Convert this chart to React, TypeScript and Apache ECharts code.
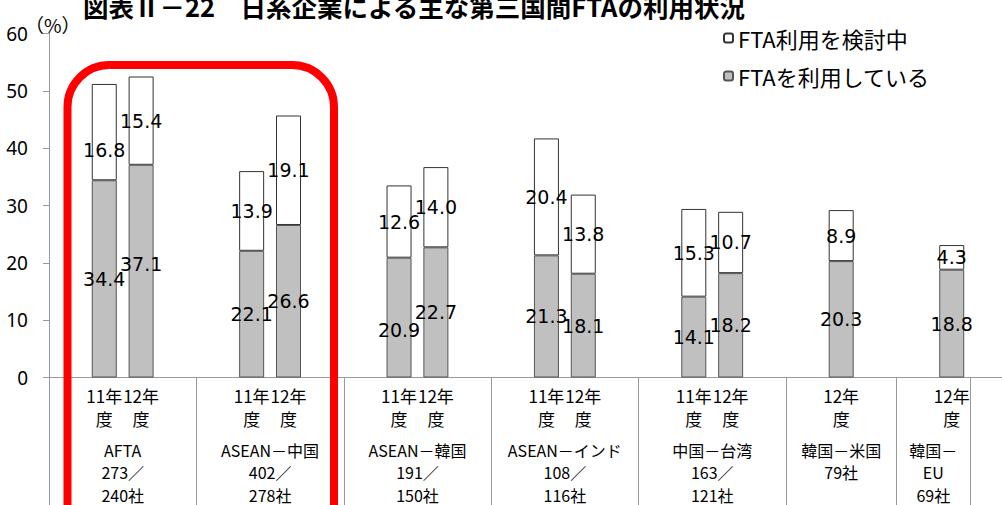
import React, { useEffect, useRef } from 'react';
import * as echarts from 'echarts';

// ---- data ----
const titleText = '図表Ⅱ－22　日系企業による主な第三国間FTAの利用状況';
const unitText = '（%）';

// one slot per bar position on the category axis (blank slots separate the groups)
const slotLabels = [
  '', '11年度', '12年度', '',
  '', '11年度', '12年度', '',
  '', '11年度', '12年度', '',
  '', '11年度', '12年度', '',
  '', '11年度', '12年度', '',
  '', '12年度', '',
  '', '12年度',
  '',
];

const usingFTA = [
  null, 34.4, 37.1, null,
  null, 22.1, 26.6, null,
  null, 20.9, 22.7, null,
  null, 21.3, 18.1, null,
  null, 14.1, 18.2, null,
  null, 20.3, null,
  null, 18.8,
  null,
];

const consideringFTA = [
  null, 16.8, 15.4, null,
  null, 13.9, 19.1, null,
  null, 12.6, 14.0, null,
  null, 20.4, 13.8, null,
  null, 15.3, 10.7, null,
  null, 8.9, null,
  null, 4.3,
  null,
];

const groupLabels = [
  'AFTA\n273／\n240社',
  'ASEAN－中国\n402／\n278社',
  'ASEAN－韓国\n191／\n150社',
  'ASEAN－インド\n108／\n116社',
  '中国－台湾\n163／\n121社',
  '韓国－米国\n79社',
  '韓国－\nEU\n69社',
];
// group boundaries measured in slots along the category axis
const groupBounds = [0, 4, 8, 12, 16, 20, 23, 25];

const seriesNames = ['FTAを利用している', 'FTA利用を検討中'];
const yMin = 0;
const yMax = 60;
const yStep = 10;

// manual label nudges (pixels), as in the original chart
const usingLabelNudge: Record<number, number> = { 2: -7, 9: 12 };
const consideringLabelNudge: Record<number, number> = { 1: 18 };

const CJK = '"Noto Sans CJK JP", "Noto Sans", sans-serif';
const NUM = '"DejaVu Sans", "Noto Sans", sans-serif';

function buildData(values: (number | null)[], nudges: Record<number, number>) {
  return values.map((v, i) =>
    v == null
      ? null
      : nudges[i] != null
      ? { value: v, label: { offset: [0, nudges[i]] } }
      : v
  );
}

export default function App() {
  const ref = useRef<HTMLDivElement>(null);

  useEffect(() => {
    const chart = echarts.init(ref.current!, null, { renderer: 'svg' });
    const nSlots = slotLabels.length;
    const groupCenters = groupLabels.map((_, i) => (groupBounds[i] + groupBounds[i + 1]) / 2);

    const barLabel = {
      show: true,
      position: 'inside',
      color: '#000',
      fontSize: 19,
      fontFamily: NUM,
      textBorderWidth: 0,
      formatter: (p: any) => (p.value == null ? '' : Number(p.value).toFixed(1)),
    };

    chart.setOption({
      animation: false,
      backgroundColor: '#fff',
      grid: {
        left: 49,
        top: 33.5,
        width: 958,
        height: 344,
        containLabel: false,
        outerBoundsMode: 'none',
      },
      legend: {
        orient: 'vertical',
        left: 723,
        top: 26,
        padding: 0,
        itemWidth: 9,
        itemHeight: 9,
        itemGap: 14,
        data: [seriesNames[1], seriesNames[0]],
        textStyle: { fontSize: 22, lineHeight: 24, fontFamily: CJK, color: '#000', padding: [0, 0, 0, 0] },
      },
      xAxis: [
        {
          type: 'category',
          data: slotLabels,
          boundaryGap: true,
          axisLine: { show: true, lineStyle: { color: '#999', width: 1 } },
          axisTick: { show: false },
          axisLabel: {
            interval: 0,
            margin: 6,
            fontSize: 17,
            lineHeight: 23,
            fontFamily: CJK,
            color: '#000',
            formatter: (v: string) => (v ? v.replace('年', '年\n') : ''),
          },
          splitLine: { show: false },
        },
        {
          type: 'value',
          position: 'bottom',
          min: 0,
          max: nSlots,
          axisLine: { show: false },
          splitLine: { show: false },
          axisTick: {
            show: true,
            customValues: groupBounds,
            length: 140,
            lineStyle: { color: '#999', width: 1 },
          },
          axisLabel: {
            show: true,
            customValues: groupCenters,
            margin: 61,
            fontSize: 16,
            lineHeight: 22.5,
            fontFamily: CJK,
            color: '#000',
            formatter: (v: number) => {
              const idx = groupCenters.findIndex((c) => Math.abs(c - v) < 1e-6);
              return idx >= 0 ? groupLabels[idx] : '';
            },
          },
        },
      ],
      yAxis: {
        type: 'value',
        min: yMin,
        max: yMax,
        interval: yStep,
        axisLine: { show: true, lineStyle: { color: '#999', width: 1 } },
        axisTick: { show: true, length: 6, lineStyle: { color: '#999' } },
        axisLabel: { margin: 21, fontSize: 19, fontFamily: '"Noto Sans", sans-serif', color: '#000' },
        splitLine: { show: false },
      },
      series: [
        {
          name: seriesNames[0],
          type: 'bar',
          stack: 'fta',
          xAxisIndex: 0,
          barWidth: 25,
          data: buildData(usingFTA, usingLabelNudge),
          itemStyle: { color: '#C0C0C0', borderColor: '#555', borderWidth: 1 },
          label: barLabel,
        },
        {
          name: seriesNames[1],
          type: 'bar',
          stack: 'fta',
          xAxisIndex: 0,
          barWidth: 25,
          data: buildData(consideringFTA, consideringLabelNudge),
          itemStyle: { color: '#FFFFFF', borderColor: '#333', borderWidth: 1 },
          label: barLabel,
        },
      ],
      graphic: [
        {
          type: 'text',
          x: 83,
          y: 5,
          z: 50,
          style: {
            text: titleText,
            font: `bold 25.5px ${CJK}`,
            fill: '#000',
            verticalAlign: 'middle',
          },
        },
        {
          type: 'text',
          x: 25,
          y: 24,
          z: 50,
          style: {
            text: unitText,
            font: `19px ${CJK}`,
            fill: '#000',
            verticalAlign: 'middle',
          },
        },
        {
          type: 'rect',
          z: 100,
          shape: { x: 67.5, y: 65, width: 266.5, height: 520, r: 42 },
          style: { fill: 'none', stroke: '#FF0000', lineWidth: 8 },
        },
      ],
    });

    return () => chart.dispose();
  }, []);

  return (
    <div
      ref={ref}
      style={{ position: 'fixed', left: 0, top: 0, width: 1002, height: 505 }}
    />
  );
}
